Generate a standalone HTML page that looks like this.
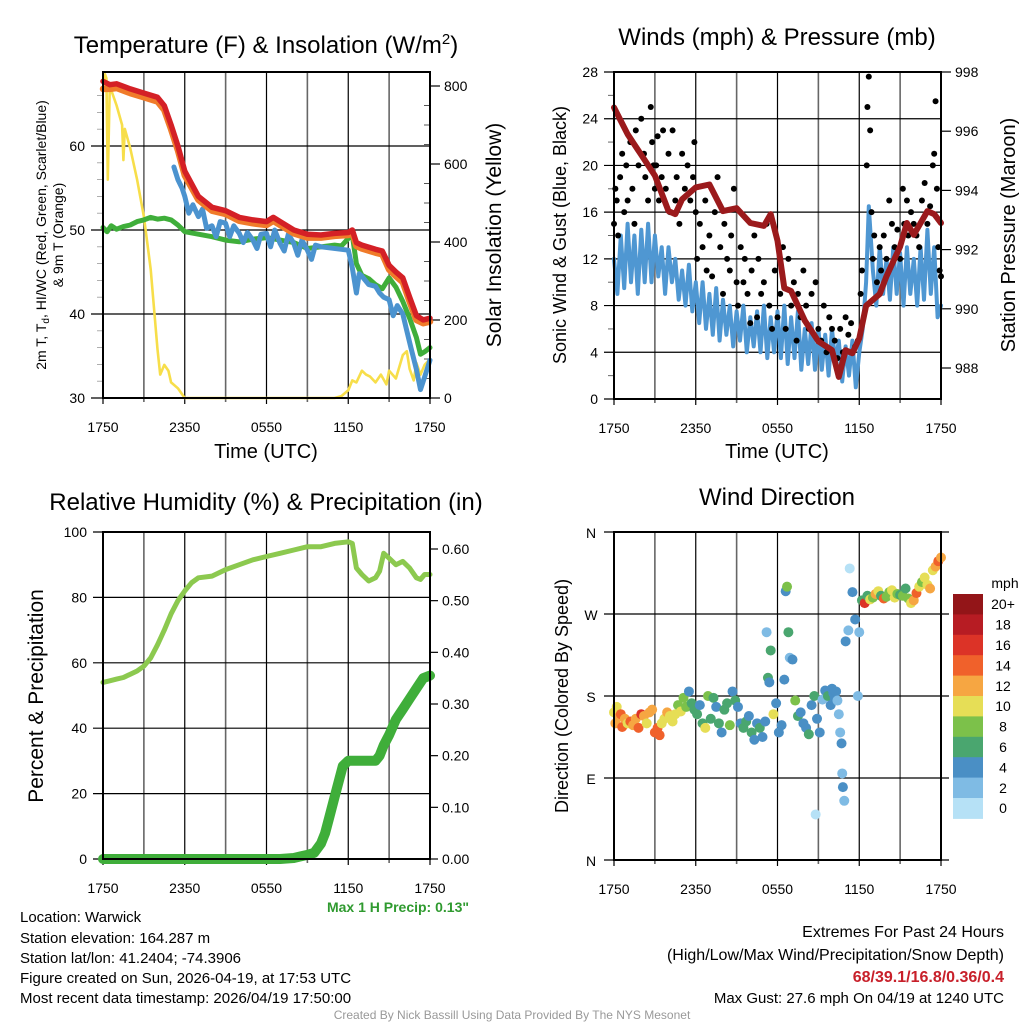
<!DOCTYPE html>
<html><head><meta charset="utf-8"><style>
html,body{margin:0;padding:0;background:#fff;}
svg text{font-family:"Liberation Sans",Arial,sans-serif;fill:#000;}
</style></head><body>
<svg id="s" width="1024" height="1024" viewBox="0 0 1024 1024" xmlns="http://www.w3.org/2000/svg">
<g id="g"></g>
<text x="266" y="53" font-size="24" text-anchor="middle">Temperature (F) &amp; Insolation (W/m<tspan dy="-9" font-size="15">2</tspan><tspan dy="9">)</tspan></text>
<text x="777" y="45" font-size="24" text-anchor="middle">Winds (mph) &amp; Pressure (mb)</text>
<text x="266" y="510" font-size="24" text-anchor="middle">Relative Humidity (%) &amp; Precipitation (in)</text>
<text x="777" y="505" font-size="24" text-anchor="middle">Wind Direction</text>
<text transform="translate(46,235) rotate(-90)" font-size="14" text-anchor="middle">2m T, T<tspan font-size="10" dy="3">d</tspan><tspan dy="-3">, HI/WC (Red, Green, Scarlet/Blue)</tspan></text>
<text transform="translate(63,235) rotate(-90)" font-size="14" text-anchor="middle">&amp; 9m T (Orange)</text>
<text transform="translate(501,235) rotate(-90)" font-size="21" text-anchor="middle">Solar Insolation (Yellow)</text>
<text transform="translate(566,235) rotate(-90)" font-size="18" text-anchor="middle">Sonic Wind &amp; Gust (Blue, Black)</text>
<text transform="translate(1015,235) rotate(-90)" font-size="20" text-anchor="middle">Station Pressure (Maroon)</text>
<text transform="translate(43,696) rotate(-90)" font-size="21" text-anchor="middle">Percent &amp; Precipitation</text>
<text transform="translate(568,696) rotate(-90)" font-size="18" text-anchor="middle">Direction (Colored By Speed)</text>
<text x="266" y="458" font-size="20" text-anchor="middle">Time (UTC)</text>
<text x="777" y="458" font-size="20" text-anchor="middle">Time (UTC)</text>
<text x="469" y="912" font-size="14" font-weight="bold" text-anchor="end" style="fill:#2f9a2f">Max 1 H Precip: 0.13"</text>
<g font-size="15">
<text x="20" y="922">Location: Warwick</text>
<text x="20" y="943">Station elevation: 164.287 m</text>
<text x="20" y="963">Station lat/lon: 41.2404; -74.3906</text>
<text x="20" y="983">Figure created on Sun, 2026-04-19, at 17:53 UTC</text>
<text x="20" y="1003">Most recent data timestamp: 2026/04/19 17:50:00</text>
</g>
<g font-size="16" text-anchor="end">
<text x="1004" y="937">Extremes For Past 24 Hours</text>
<text x="1004" y="960">(High/Low/Max Wind/Precipitation/Snow Depth)</text>
<text x="1004" y="982" font-weight="bold" style="fill:#c8202a">68/39.1/16.8/0.36/0.4</text>
<text x="1004" y="1003" font-size="15">Max Gust: 27.6 mph On 04/19 at 1240 UTC</text>
</g>
<text x="512" y="1019" font-size="12" text-anchor="middle" style="fill:#999">Created By Nick Bassill Using Data Provided By The NYS Mesonet</text>
</svg>
<script>
const xTickLabels = ["1750","2350","0550","1150","1750"];
const tempTicks = [30,40,50,60];
const solarTicks = [0,200,400,600,800];
const redH = [0,0.5,1,2,3,4,4.5,5,5.5,6,7,8,9,10,11,12,12.5,13,14,15,16,17,18,18.3,18.6,19,20,20.5,21,21.5,22,22.5,23,23.5,24];
const redV = [67.7,67.3,67.4,66.8,66.3,65.8,64.8,62.5,60,57,54,52.7,52.3,51.5,51.2,51,51.5,51,50,49.5,49.4,49.6,49.7,50,48.5,48.2,47.7,47.5,45.8,45,44.3,42,39.8,39.3,39.5];
const orangeV = [66.8,66.8,66.9,66.3,65.8,65.3,64.3,62,59.5,56.5,53.6,52.3,51.9,51.1,50.8,50.6,51.1,50.6,49.6,49.1,49.1,49.3,49.4,49.7,48.1,47.8,47.3,47.1,45.3,44.5,43.8,41.5,39.3,38.9,39.1];
const greenH = [0,0.3,0.6,1,1.5,2,2.5,3,3.5,4,4.5,5,5.5,6,7,8,9,10,11,12,13,14,15,16,17,17.5,18,18.3,18.6,19,19.5,20,20.5,21,21.5,22,22.5,23,23.3,23.6,24];
const greenV = [50.3,49.8,50.5,50.1,50.4,50.6,51,51.2,51.5,51.3,51.4,51.2,50.6,49.8,49.5,49.2,48.8,48.6,48.9,49.1,48.8,48.5,47.8,48,48.2,48.1,49,49.4,46,44.6,44.2,43.5,43,44.3,43.2,41.5,39.5,37.2,35.2,35.5,36];
const blueH = [5.2,5.5,5.8,6,6.3,6.6,7,7.3,7.6,8,8.3,8.6,9,9.3,9.6,10,10.3,10.6,11,11.3,11.6,12,12.3,12.6,13,13.3,13.6,14,14.3,14.6,15,15.3,15.6,16,18,18.3,18.6,18.8,19,19.5,20,20.3,20.6,21,21.3,21.6,22,22.3,22.6,23,23.3,23.6,24];
const blueV = [57.5,56,55,54,52,53,51.6,52.5,50.2,50.5,49.2,51,50.8,49.2,50.5,49.6,48.5,49.7,48.8,47.8,49.5,49.6,48,50,48.4,47.5,49.5,48.4,47,48.8,47.6,46.5,48.2,48,47.6,45.5,42.5,44.8,44.5,43.5,43.3,42.5,42,41.7,39.8,41,40,38,36,33.4,31,32.5,34.5];
const solarH = [0,0.15,0.25,0.35,0.5,1,1.4,1.5,1.6,2,2.5,3,3.5,4,4.2,4.5,4.8,5,5.5,5.8,6,17,17.5,18,18.3,18.6,19,19.3,19.6,20,20.4,20.8,21,21.5,22,22.3,22.5,22.8,23,23.3,23.6,24];
const solarV = [790,830,820,560,800,750,700,610,690,640,560,465,330,125,60,85,70,40,25,10,0,0,5,20,45,40,70,60,55,40,60,35,70,50,110,120,75,45,90,60,85,100];
const windTicks = [0,4,8,12,16,20,24,28];
const presTicks = [988,990,992,994,996,998];
const presH = [0,1,2,3,4,4.5,5,6,7,8,9,10,11,11.5,12,12.5,13,14,15,16,16.5,17,17.5,18,18.5,19,19.5,20,20.5,21,21.5,22,22.5,23,23.5,24];
const presV = [996.8,995.9,995.2,994.5,993.3,993.2,993.7,994.1,994.2,993.3,993.4,992.9,992.8,993.2,992.3,990.7,990.6,989.6,988.9,988.6,987.7,988.6,988.5,989,990.1,990.3,990.5,991.1,991.6,992.1,992.9,992.5,992.9,993.3,993.2,992.9];
const sonicH = [0,0.25,0.5,0.75,1,1.25,1.5,1.75,2,2.25,2.5,2.75,3,3.25,3.5,3.75,4,4.25,4.5,4.75,5,5.25,5.5,5.75,6,6.25,6.5,6.75,7,7.25,7.5,7.75,8,8.25,8.5,8.75,9,9.25,9.5,9.75,10,10.25,10.5,10.75,11,11.25,11.5,11.75,12,12.25,12.5,12.75,13,13.25,13.5,13.75,14,14.25,14.5,14.75,15,15.25,15.5,15.75,16,16.25,16.5,16.75,17,17.25,17.5,17.75,18,18.25,18.5,18.7,19,19.25,19.5,19.75,20,20.25,20.5,20.75,21,21.25,21.5,21.75,22,22.25,22.5,22.75,23,23.25,23.5,23.75,24];
const sonicV = [12,9,14,9.5,15,10,14,9,14.5,10,15,10,14,10.5,13,9,13,10,12,8.5,11,8,11.5,7.5,10,6.5,10,6,9,5.5,9.5,5,8.5,5.5,8,4.5,7.5,5,8,4,7,4.5,7.5,4,8,3.5,7,4,7.5,3.5,8,3,7,3.5,7.5,2.5,6,3,6.5,2.5,6,2.5,5.5,2,6,3,5,1.5,4.5,2,5,1,4,6,10,16.5,11,8,13,9,12,8.5,13,9,12.5,8,13,9,12,8,13,8.5,14.5,9,13,7,8];
const gustH = [0,0.1,0.2,0.3,0.45,0.6,0.75,0.9,1,1.2,1.35,1.5,1.6,1.8,2,2.2,2.3,2.5,2.7,2.8,2.9,3,3.1,3.2,3.3,3.5,3.6,3.8,4,4.1,4.3,4.5,4.6,4.8,5,5.2,5.4,5.6,5.8,5.9,6,6.1,6.3,6.5,6.7,6.8,7,7.2,7.4,7.6,7.8,8,8.1,8.3,8.5,8.6,8.8,9,9.1,9.3,9.5,9.6,9.8,10,10.1,10.3,10.5,10.6,10.8,11,11.2,11.4,11.6,11.8,12,12.2,12.4,12.6,12.8,13,13.2,13.4,13.5,13.7,13.9,14.1,14.3,14.5,14.8,15,15.2,15.4,15.6,15.8,16,16.2,16.4,16.6,16.8,17,17.2,17.4,17.7,17.9,18.1,18.2,18.55,18.6,18.7,18.8,18.9,19,19.1,19.3,19.5,19.6,19.8,20,20.2,20.4,20.6,20.8,21,21.2,21.3,21.5,21.6,21.8,22,22.2,22.4,22.6,22.8,23,23.2,23.4,23.5,23.6,23.7,23.8,23.9,24];
const gustV = [15,18,17,14,19,21,16,20,17,22,18,15,23,20,24,21,19,17,25,22,20,18,20,22.5,17,19,23,18,21,16,23,17,19,15,21,18,20,17,19,22,16,12,15,13,17,11,14,10.5,16,19,13,9,15,12,11,14,18,10,8,13,10,12,9,6.5,11,14,7,12,9,10,15,8,6,11,7,9,13,6,12,8,10,5,9,7,11,8,6,9,10,6,5,8,4,7,6,5,3.5,6,4,7,5.5,6.5,4.5,5,9,11,20,25,27.6,23,16,12,14,10,13,11,14,12,17,15,13,14.5,12,18,15,17,14,16,15,14,13,17,18.5,15,16.5,20,21,25.5,18,13,11,10.5];
const rhTicks = [0,20,40,60,80,100];
const precipTicks = ["0.00","0.10","0.20","0.30","0.40","0.50","0.60"];
const rhH = [0,0.5,1,1.5,2,2.5,3,3.5,4,4.5,5,5.5,6,6.5,7,8,9,10,11,12,13,14,15,16,17,18,18.3,18.6,19,19.5,20,20.3,20.6,21,21.5,22,22.5,23,23.3,23.6,24];
const rhV = [54,54.5,55,55.5,56.5,57.5,59,61.5,65.5,70,75,79,82,84.5,86,86.5,88.5,90,91.5,92.5,93.5,94.5,95.5,95.5,96.5,97,96.5,89,87,85,86,88,93.5,92,90,91,89,86,85.5,87,87];
const precipH = [0,13,14,14.5,15,15.5,16,16.3,16.6,17,17.3,17.6,18,19,20,20.3,20.6,21,21.5,22,22.5,23,23.5,24];
const precipV = [0,0,0.002,0.005,0.008,0.012,0.03,0.05,0.08,0.12,0.15,0.18,0.19,0.19,0.19,0.2,0.22,0.24,0.27,0.29,0.31,0.33,0.35,0.355];
const dirLabels = ["N","E","S","W","N"];
const spdLabels = ["0","2","4","6","8","10","12","14","16","18","20+"];
const spdColors = ["#b6e1f6","#7fbbe4","#4a8fc5","#4aa66f","#7cc14a","#e6de56","#f6a642","#f0612b","#dc3327","#b71c23","#931518"];
const dirH = [0,0.1,0.2,0.35,0.5,0.6,0.8,1,1.2,1.4,1.6,1.8,2,2.2,2.4,2.6,2.8,3,3.2,3.35,3.5,3.7,3.9,4.1,4.3,4.5,4.7,4.9,5.1,5.3,5.5,5.7,5.9,6.1,6.3,6.5,6.7,6.9,7.1,7.3,7.5,7.7,7.9,8.1,8.3,8.5,8.7,8.9,9.1,9.3,9.5,9.7,9.9,10.1,10.3,10.5,10.7,10.9,11.1,11.2,11.3,11.4,11.5,11.7,11.9,12.1,12.3,12.5,12.6,12.7,12.8,12.9,13.1,13.3,13.5,13.7,13.9,14.1,14.3,14.5,14.7,14.8,14.9,15.1,15.3,15.5,15.7,15.9,16.0,16.1,16.2,16.3,16.4,16.5,16.6,16.7,16.75,16.8,16.9,17.0,17.2,17.3,17.5,17.7,17.9,18.0,18.2,18.4,18.6,18.8,19.0,19.2,19.4,19.6,19.8,20.0,20.2,20.4,20.6,20.8,21.0,21.2,21.4,21.6,21.8,22.0,22.2,22.4,22.6,22.8,23.0,23.2,23.4,23.6,23.8,24.0];
const dirV = [162,150,168,157,160,146,155,150,152,148,155,145,160,158,150,162,165,140,145,137,150,155,162,158,152,160,170,163,178,168,185,172,165,160,170,150,145,180,155,178,168,150,140,165,172,148,185,175,168,150,145,152,158,140,132,150,145,135,152,250,200,195,230,160,172,140,148,198,295,300,250,222,220,175,158,162,150,145,138,170,180,50,155,140,176,186,180,170,188,183,178,185,175,160,140,128,95,80,65,240,252,320,294,264,180,250,285,282,290,286,288,292,295,290,287,289,294,296,288,292,291,290,298,287,282,285,293,300,305,310,302,298,318,322,328,332,320,310,318,315];
const dirS = [10,12,11,13,14,14,12,11,15,13,12,14,16,12,11,12,13,14,14,15,10,11,12,11,10,10,9,10,8,9,4,6,7,6,5,6,10,8,6,7,4,6,4,6,7,8,4,7,5,4,7,6,4,6,5,4,6,5,4,2,6,4,6,10,4,4,5,4,4,8,6,2,4,8,6,5,4,4,7,4,6,0,5,4,3,4,6,4,4,4,5,4,2,2,3,4,2,4,2,4,3,0,4,4,3,2,6,16,7,10,8,12,10,7,14,9,8,10,11,8,7,9,6,8,10,12,14,10,9,10,11,12,10,12,14,13,11,16,7,6];

const NS="http://www.w3.org/2000/svg";
const G=document.getElementById('g');
function mk(tag,attrs,parent){const e=document.createElementNS(NS,tag);for(const k in attrs)e.setAttribute(k,attrs[k]);(parent||G).appendChild(e);return e;}
function txt(x,y,s,size,anchor,parent){const e=mk('text',{x:x,y:y,'font-size':size,'text-anchor':anchor},parent);e.textContent=s;return e;}
function hx(L,R){return h=>L+(R-L)*h/24;}
function lin(v0,v1,p0,p1){return v=>p0+(v-v0)*(p1-p0)/(v1-v0);}
function poly(H,V,fx,fy,color,w,name){const pts=H.map((h,i)=>fx(h).toFixed(1)+","+fy(V[i]).toFixed(1)).join(" ");
 const e=mk('polyline',{points:pts,fill:'none',stroke:color,'stroke-width':w,'stroke-linejoin':'round','stroke-linecap':'round'});
 
 
 return e;}
function frame(L,T,R,B,name){
 for(let i=0;i<=8;i++){const x=L+(R-L)*i/8;mk('line',{x1:x,y1:T,x2:x,y2:B+(i%2==0?6:4),stroke:i%2?'#666':'#000','stroke-width':i%2?1.6:1.2});}
 const xl=mk('g',{});
 
 
 xTickLabels.forEach((s,i)=>txt(L+(R-L)*i/4,B+34,s,14,'middle',xl));
}
function border(L,T,R,B,name){const e=mk('rect',{x:L,y:T,width:R-L,height:B-T,fill:'none',stroke:'#000','stroke-width':2});
 
 }

(function(){
 const L=103,R=430,T=72,B=398;
 const fx=hx(L,R), fy=lin(30,60,398,146), fs=lin(0,800,398,86);
 frame(L,T,R,B,'temp');
 tempTicks.forEach(v=>{mk('line',{x1:L-12,y1:fy(v),x2:R,y2:fy(v),stroke:'#000','stroke-width':1.2});txt(L-18,fy(v)+5,String(v),14,'end');});
 solarTicks.forEach(v=>{mk('line',{x1:R,y1:fs(v),x2:R+10,y2:fs(v),stroke:'#000','stroke-width':1.2});txt(R+14,fs(v)+5,String(v),14,'start');});
 for(let v=50;v<800;v+=50){if(v%200)mk('line',{x1:R-6,y1:fs(v),x2:R,y2:fs(v),stroke:'#555','stroke-width':1});}
 for(let v=32;v<68;v+=2){if(v%10)mk('line',{x1:L-6,y1:fy(v),x2:L,y2:fy(v),stroke:'#999','stroke-width':0.8});}
 poly(solarH,solarV,fx,fs,'#f7de4a',2.6,'solar-insolation-line');
 poly(greenH,greenV,fx,fy,'#3fae3a',5,'dewpoint-line');
 poly(blueH,blueV,fx,fy,'#4b93cf',5,'windchill-line');
 poly(redH,orangeV,fx,fy,'#f07b2a',6.5,'9m-temp-line');
 poly(redH,redV,fx,fy,'#d42026',5.5,'2m-temp-line');
 border(L,T,R,B,'temp');
})();

(function(){
 const L=614,R=941,T=72,B=399;
 const fx=hx(L,R), fy=lin(0,28,399,72), fp=lin(988,998,368,72);
 frame(L,T,R,B,'wind');
 windTicks.forEach(v=>{mk('line',{x1:L-10,y1:fy(v),x2:R,y2:fy(v),stroke:'#000','stroke-width':1.2});txt(L-16,fy(v)+5,String(v),14,'end');});
 presTicks.forEach(v=>{mk('line',{x1:R,y1:fp(v),x2:R+10,y2:fp(v),stroke:'#000','stroke-width':1.2});txt(R+14,fp(v)+5,String(v),14,'start');});
 for(let v=2;v<28;v+=4){mk('line',{x1:L-6,y1:fy(v),x2:L,y2:fy(v),stroke:'#666','stroke-width':1});}
 poly(sonicH,sonicV,fx,fy,'#4f97d2',4,'sonic-wind-line');
 const gg=mk('g',{});
 
 
 gustH.forEach((h,i)=>{const c=mk('circle',{cx:fx(h),cy:fy(gustV[i]),r:3,fill:'#000'},gg);
  
  });
 poly(presH,presV,fx,fp,'#9b1a1c',6,'pressure-line');
 border(L,T,R,B,'wind');
})();

(function(){
 const L=103,R=430,T=532,B=859;
 const fx=hx(L,R), fy=lin(0,100,859,532), fp=lin(0,0.6,859,549);
 frame(L,T,R,B,'rh');
 rhTicks.forEach(v=>{mk('line',{x1:L-10,y1:fy(v),x2:R,y2:fy(v),stroke:'#000','stroke-width':1.2});txt(L-16,fy(v)+5,String(v),14,'end');});
 precipTicks.forEach(s=>{const v=parseFloat(s);mk('line',{x1:R,y1:fp(v),x2:R+8,y2:fp(v),stroke:'#000','stroke-width':1.2});txt(R+12,fp(v)+5,s,14,'start');});
 poly(rhH,rhV,fx,fy,'#8cc94f',5,'rh-line');
 poly(precipH,precipV,fx,fp,'#3fae3a',10,'precip-line');
 border(L,T,R,B,'rh');
})();

(function(){
 const L=614,R=941,T=532,B=860;
 const fx=hx(L,R), fy=lin(0,360,860,532);
 frame(L,T,R,B,'dir');
 dirLabels.forEach((s,i)=>{const y=fy(i*90);mk('line',{x1:L-10,y1:y,x2:R+8,y2:y,stroke:'#000','stroke-width':1.2});txt(L-23,y+6,s,14,'middle');});
 const dg=mk('g',{});
 
 
 dirH.forEach((h,i)=>{const b=Math.min(10,Math.floor(dirS[i]/2));
  const c=mk('circle',{cx:fx(h),cy:fy(dirV[i]),r:5,fill:spdColors[b]},dg);
  
  });
 border(L,T,R,B,'dir');
 const cb=mk('g',{});
 
 
 const top=594,bh=20.4;
 txt(1005,588,'mph',14,'middle',cb);
 for(let i=0;i<11;i++){const k=10-i;const y=top+i*bh;
  mk('rect',{x:953,y:y,width:30,height:bh+0.5,fill:spdColors[k]},cb);
  txt(1003,y+bh/2+5,spdLabels[k],14,'middle',cb);}
})();
</script>
</body></html>
